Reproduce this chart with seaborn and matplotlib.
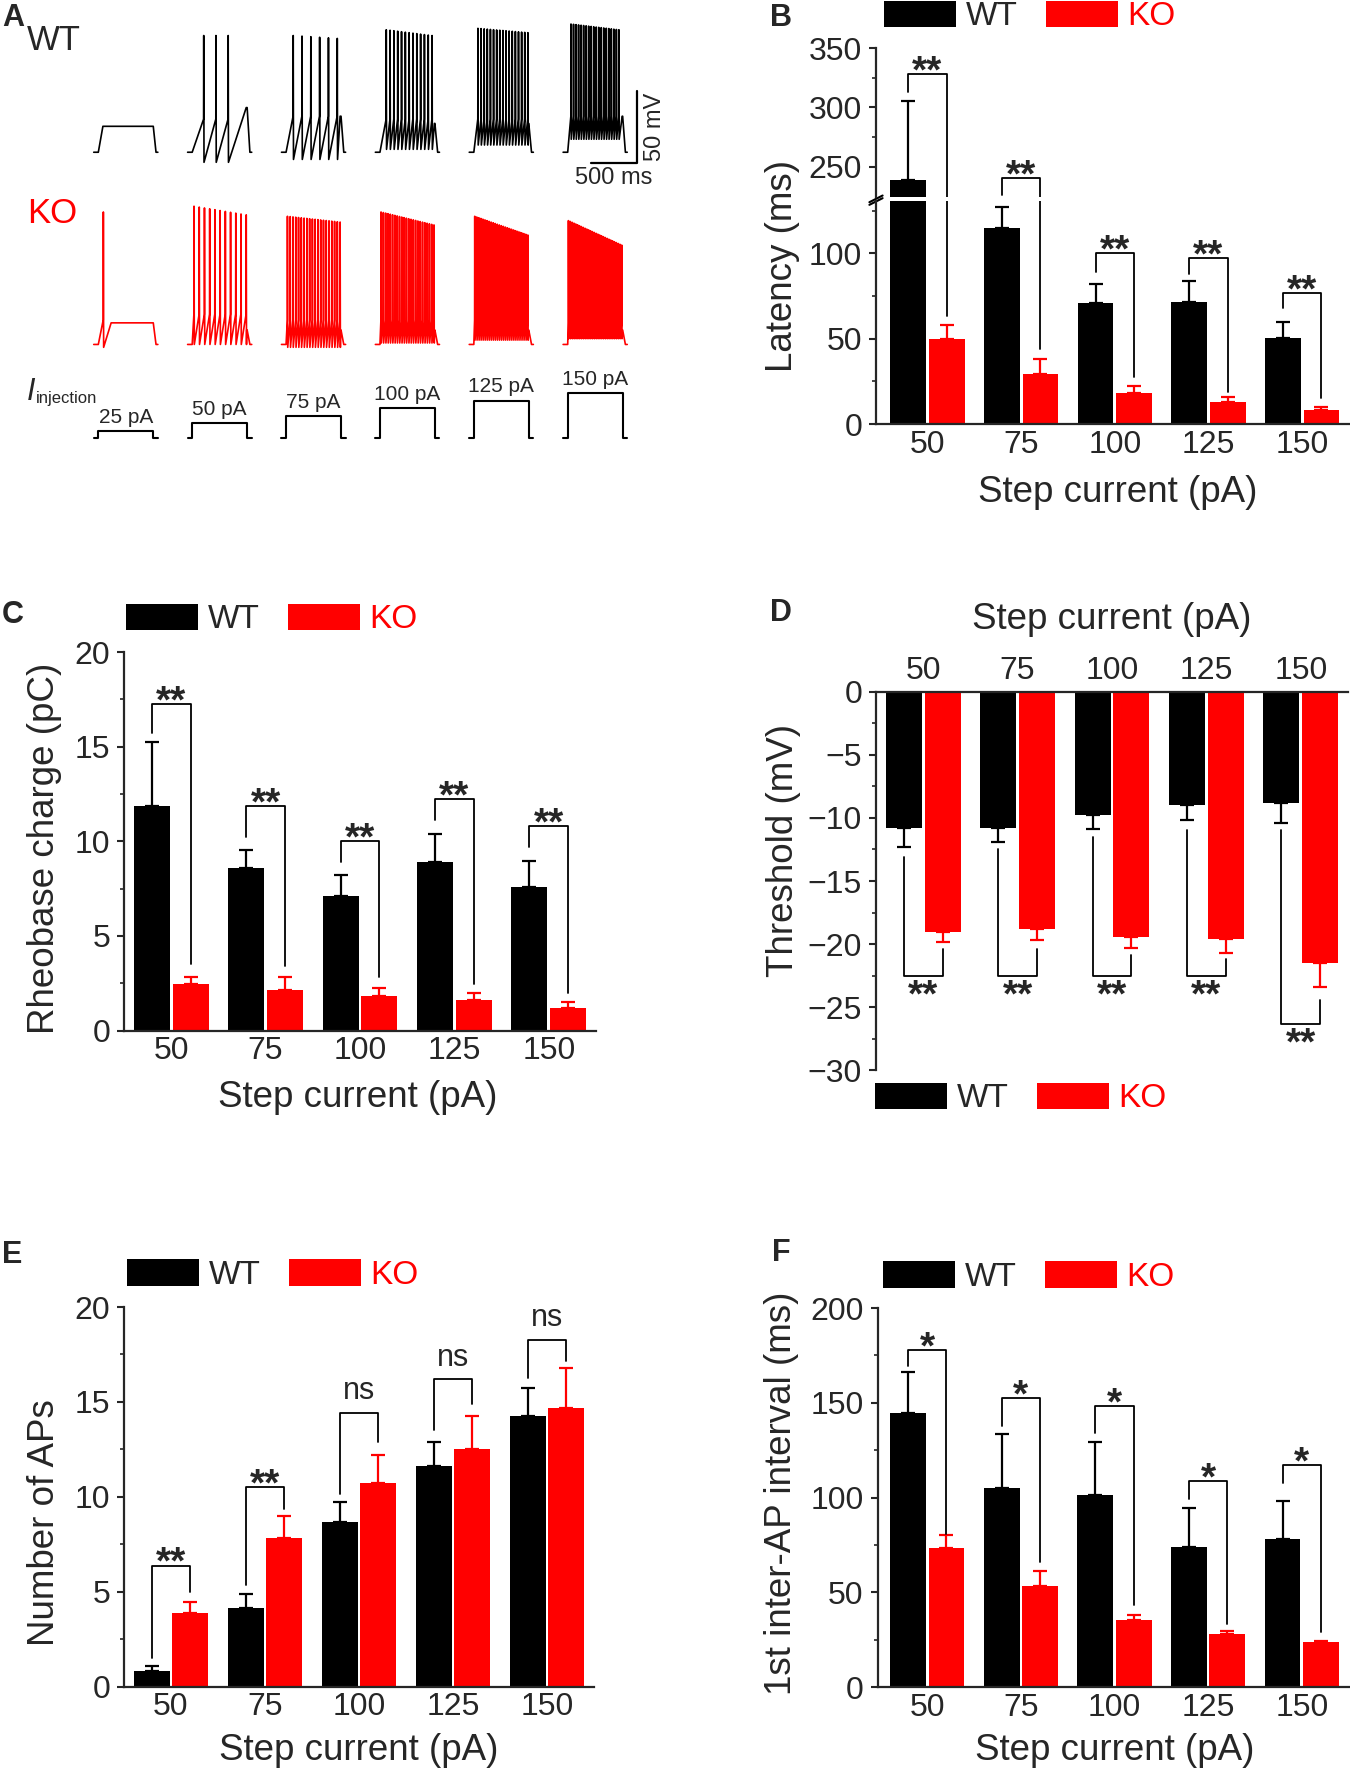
"""Firing properties of WT vs KO neurons: example traces and summary bar charts."""

import numpy as np
import pandas as pd
import seaborn as sns
import matplotlib.pyplot as plt
from matplotlib.patches import Patch
from matplotlib.ticker import MultipleLocator

W, H = 1350, 1776

steps = ["50", "75", "100", "125", "150"]
groups = ["WT", "KO"]
colors = {"WT": "black", "KO": "#ff0000"}

# --- panel A: example traces (per-trace spike counts, timing and levels)
step_amps = [25, 50, 75, 100, 125, 150]
wt_n = [0, 3, 6, 13, 17, 20]
wt_first = [0, 176, 128, 119, 95, 86]
wt_last = [0, 443, 609, 619, 640, 609]
wt_peak_first = [0, 16, 16, 20, 21, 24]
wt_peak_last = [0, 16, 14, 16, 18, 20]
wt_trough = [0, -72, -70, -63, -60, -56]
wt_thresh = [0, -42, -40, -42, -42, -40]
wt_hold = [-47, -34, -40, -45, -45, -40]
wt_hold_t = [100, 640, 640, 645, 645, 645]

ko_n = [1, 11, 20, 24, 27, 30]
ko_first = [105, 70, 65, 62, 60, 58]
ko_last = [105, 640, 640, 640, 640, 640]
ko_peak_first = [27, 31, 24, 27, 24, 21]
ko_peak_last = [27, 25, 20, 18, 11, 4]
ko_trough = [-67, -65, -67, -64, -62, -61]
ko_thresh = [-48, -44, -48, -48, -48, -50]
ko_hold = [-50, -55, -55, -55, -55, -55]
ko_hold_t = [190, 645, 645, 645, 645, 645]

# --- panel B: latency (ms)
latency_wt = [239, 115, 71, 71.5, 50.5]
latency_wt_sem = [66, 12, 11, 12.5, 9]
latency_ko = [49.5, 29, 18, 13, 8.3]
latency_ko_sem = [8.5, 9, 4.2, 3, 1.8]
latency_brackets = [(313, 328, 63), (226, 240.7, 44), (89, 100, 27.7), (88, 97, 19), (68, 76.6, 15)]
latency_marks = ["**", "**", "**", "**", "**"]

# --- panel C: rheobase charge (pC)
rheo_wt = [11.85, 8.6, 7.1, 8.9, 7.6]
rheo_wt_sem = [3.4, 0.95, 1.1, 1.5, 1.35]
rheo_ko = [2.45, 2.15, 1.8, 1.6, 1.2]
rheo_ko_sem = [0.4, 0.7, 0.45, 0.4, 0.3]
rheo_brackets = [(15.7, 17.27, 3.5), (10.2, 11.84, 3.4), (8.9, 10.0, 2.84), (11.1, 12.25, 2.46), (9.7, 10.8, 2.0)]
rheo_marks = ["**", "**", "**", "**", "**"]

# --- panel D: threshold (mV)
thr_wt = [-10.8, -10.8, -9.8, -9.0, -8.8]
thr_wt_sem = [1.5, 1.1, 1.1, 1.2, 1.6]
thr_ko = [-19.0, -18.8, -19.4, -19.6, -21.5]
thr_ko_sem = [0.85, 0.9, 0.9, 1.1, 1.9]
thr_brackets = [(-13.1, -22.5, -20.4), (-12.5, -22.5, -20.4), (-11.55, -22.55, -20.9),
                (-11.0, -22.55, -21.2), (-11.0, -26.3, -24.4)]
thr_marks = ["**", "**", "**", "**", "**"]

# --- panel E: number of APs
aps_wt = [0.8, 4.15, 8.65, 11.6, 14.25]
aps_wt_sem = [0.3, 0.7, 1.05, 1.3, 1.5]
aps_ko = [3.85, 7.8, 10.75, 12.5, 14.7]
aps_ko_sem = [0.6, 1.2, 1.45, 1.75, 2.1]
aps_brackets = [(1.48, 6.37, 4.96), (5.34, 10.5, 9.38), (10.13, 14.4, 12.86), (13.5, 16.18, 14.9), (16.24, 18.27, 17.14)]
aps_marks = ["**", "**", "ns", "ns", "ns"]

# --- panel F: 1st inter-AP interval (ms)
isi_wt = [144.5, 105, 101.5, 74, 78]
isi_wt_sem = [21.5, 28.5, 28, 20.5, 20]
isi_ko = [73.5, 53.5, 35.5, 28, 23.5]
isi_ko_sem = [6.5, 7.5, 2.5, 1.5, 1.0]
isi_brackets = [(169.5, 178, 81), (137.5, 152.5, 66), (134, 148.4, 43.3), (99, 108.7, 33), (107.5, 117, 29.2)]
isi_marks = ["*", "*", "*", "*", "*"]

TICK_FS = 23
LABEL_FS = 26.5


def px_rect(left, top, right, bottom):
    return [left / W, 1 - bottom / H, (right - left) / W, (bottom - top) / H]


def membrane_trace(n, t_first, t_last, pk_first, pk_last, trough, thresh, hold, t_hold,
                   rest=-65.0, step_on=50.0, step_off=650.0, length=700.0):
    t = [0.0, step_on]
    v = [rest, rest]
    if n > 0:
        times = np.linspace(t_first, t_last, n)
        peaks = np.linspace(pk_first, pk_last, n)
        for ts, vp in zip(times, peaks):
            t += [ts - 1.5, ts, ts + 3]
            v += [thresh, vp, trough]
    if t_hold > t[-1]:
        t += [t_hold, step_off]
        v += [hold, hold]
    t += [step_off + 30, length]
    v += [rest, rest]
    return np.array(t), np.array(v)


def style_axis(ax):
    sns.despine(ax=ax)
    for side in ["left", "bottom", "top"]:
        ax.spines[side].set_linewidth(1.6)
    ax.tick_params(axis="y", which="major", length=5, width=1.5, pad=5, labelsize=TICK_FS, direction="out")
    ax.tick_params(axis="y", which="minor", length=3, width=1.2, direction="out")
    ax.tick_params(axis="x", length=0, pad=4, labelsize=TICK_FS)


def bar_panel(ax, wt, wt_sem, ko, ko_sem, downward=False):
    df = pd.DataFrame({
        "step": steps * 2,
        "group": ["WT"] * len(steps) + ["KO"] * len(steps),
        "value": list(wt) + list(ko),
    })
    sns.barplot(data=df, x="step", y="value", hue="group", order=steps, hue_order=groups,
                palette=colors, errorbar=None, width=0.82, gap=0.07, saturation=1,
                linewidth=0, legend=False, ax=ax)
    centers = {}
    for g, cont, vals, sem in zip(groups, ax.containers, [wt, ko], [wt_sem, ko_sem]):
        xs = [b.get_x() + b.get_width() / 2 for b in cont]
        centers[g] = xs
        zeros = np.zeros(len(sem))
        yerr = [sem, zeros] if downward else [zeros, sem]
        ax.errorbar(xs, vals, yerr=yerr, fmt="none", ecolor=colors[g],
                    elinewidth=1.6, capsize=4.7, capthick=1.6)
    ax.set_xlabel("")
    ax.set_ylabel("")
    style_axis(ax)
    return centers


def draw_brackets(ax, centers, spans, marks, below=False):
    for xl, xr, (yl, yt, yr), mark in zip(centers["WT"], centers["KO"], spans, marks):
        ax.plot([xl, xl, xr, xr], [yl, yt, yt, yr], color="black", lw=1.3)
        if mark == "ns":
            size, off, weight = 22, 10, "normal"
        elif below:
            size, off, weight = 28, -22, "bold"
        else:
            size, off, weight = 28, -6, "bold"
        ax.annotate(mark, ((xl + xr) / 2, yt), xytext=(0, off), textcoords="offset points",
                    ha="center", va="baseline", fontsize=size, fontweight=weight)


def legend_at(fig, x, y):
    handles = [Patch(facecolor=colors[g], edgecolor="none") for g in groups]
    leg = fig.legend(handles, groups, loc="center left", bbox_to_anchor=(x / W, 1 - y / H),
                     ncol=2, frameon=False, fontsize=24, handlelength=2.15, handleheight=0.85,
                     handletextpad=0.3, columnspacing=0.85, borderpad=0, borderaxespad=0)
    leg.get_texts()[1].set_color(colors["KO"])


def main() -> None:
    sns.set_style("ticks")
    plt.rcParams["font.family"] = ["Liberation Sans", "DejaVu Sans"]

    fig = plt.figure(figsize=(W / 100, H / 100), dpi=100)

    # ---------------- panel A ----------------
    col_offset = 1025
    xlim_a = (-150, 6292)
    ax_wt = fig.add_axes(px_rect(80, 20, 670, 175))
    ax_ko = fig.add_axes(px_rect(80, 195, 670, 360))
    ax_st = fig.add_axes(px_rect(80, 380, 670, 445))
    for ax in (ax_wt, ax_ko, ax_st):
        ax.set_xlim(*xlim_a)
        ax.axis("off")
    ax_wt.set_ylim(-80.8, 26.8)
    ax_ko.set_ylim(-75.8, 38.8)
    ax_st.set_ylim(-21.5, 193)

    for i in range(len(step_amps)):
        t, v = membrane_trace(wt_n[i], wt_first[i], wt_last[i], wt_peak_first[i], wt_peak_last[i],
                              wt_trough[i], wt_thresh[i], wt_hold[i], wt_hold_t[i])
        sns.lineplot(x=t + i * col_offset, y=v, ax=ax_wt, color="black", lw=1.2,
                     sort=False, estimator=None)
        t, v = membrane_trace(ko_n[i], ko_first[i], ko_last[i], ko_peak_first[i], ko_peak_last[i],
                              ko_trough[i], ko_thresh[i], ko_hold[i], ko_hold_t[i])
        sns.lineplot(x=t + i * col_offset, y=v, ax=ax_ko, color=colors["KO"], lw=1.2,
                     sort=False, estimator=None)
        amp = step_amps[i]
        ts = np.array([0, 50, 50, 650, 650, 700]) + i * col_offset
        cur = [0, 0, amp, amp, 0, 0]
        ax_st.plot(ts, cur, color="black", lw=1.5)
        ax_st.annotate(f"{amp} pA", (350 + i * col_offset, amp), xytext=(0, 3),
                       textcoords="offset points", ha="center", va="bottom", fontsize=15,
                       annotation_clip=False)

    # scale bar: 500 ms / 50 mV
    sb_x, sb_y = 5930, -72.6
    ax_wt.plot([sb_x - 500, sb_x, sb_x], [sb_y, sb_y, sb_y + 50], color="black", lw=1.6,
               clip_on=False)
    ax_wt.annotate("500 ms", (sb_x - 250, sb_y), xytext=(0, -3), textcoords="offset points",
                   ha="center", va="top", fontsize=17, annotation_clip=False)
    ax_wt.annotate("50 mV", (sb_x, sb_y + 25), xytext=(5, 0), textcoords="offset points",
                   ha="left", va="center", rotation=90, fontsize=17, annotation_clip=False)

    fig.text(2 / W, 1 - 3 / H, "A", fontsize=22, fontweight="bold", va="top", ha="left")
    fig.text(27 / W, 1 - 50 / H, "WT", fontsize=25, va="baseline", ha="left")
    fig.text(27 / W, 1 - 223 / H, "KO", fontsize=25, va="baseline", ha="left", color=colors["KO"])
    fig.text(27 / W, 1 - 400 / H, "I", fontsize=22, style="italic", va="baseline", ha="left")
    fig.text(36 / W, 1 - 403 / H, "injection", fontsize=12, va="baseline", ha="left")

    # ---------------- panel B (broken axis) ----------------
    ax_up = fig.add_axes(px_rect(876, 48, 1349, 197))
    ax_lo = fig.add_axes(px_rect(876, 201.5, 1349, 424))
    for ax in (ax_up, ax_lo):
        centers = bar_panel(ax, latency_wt, latency_wt_sem, latency_ko, latency_ko_sem)
        draw_brackets(ax, centers, latency_brackets, latency_marks)
        ax.set_xlim(-0.55, 4.5)
    ax_up.set_ylim(224.6, 350)
    ax_up.set_yticks([250, 300, 350])
    ax_up.set_yticks([275, 325], minor=True)
    ax_up.spines["bottom"].set_visible(False)
    ax_up.tick_params(axis="x", labelbottom=False)
    ax_lo.set_ylim(0, 130.3)
    ax_lo.yaxis.set_major_locator(MultipleLocator(50))
    ax_lo.yaxis.set_minor_locator(MultipleLocator(25))
    ax_lo.set_ylabel("Latency (ms)", fontsize=LABEL_FS, va="center")
    ax_lo.yaxis.set_label_coords(-0.197, 0.71)
    ax_lo.set_xlabel("Step current (pA)", fontsize=LABEL_FS, va="center")
    ax_lo.xaxis.set_label_coords(0.51, -0.31)
    # break marks on the y axis
    ax_up.plot([-0.014, 0.014], [-0.035, 0.01], transform=ax_up.transAxes, color="black",
               lw=1.5, clip_on=False)
    ax_lo.plot([-0.014, 0.014], [0.985, 1.015], transform=ax_lo.transAxes, color="black",
               lw=1.5, clip_on=False)
    fig.text(770 / W, 1 - 3 / H, "B", fontsize=22, fontweight="bold", va="top", ha="left")
    legend_at(fig, 884, 16.5)

    # ---------------- panel C ----------------
    ax_c = fig.add_axes(px_rect(124, 652, 596, 1030.5))
    centers = bar_panel(ax_c, rheo_wt, rheo_wt_sem, rheo_ko, rheo_ko_sem)
    draw_brackets(ax_c, centers, rheo_brackets, rheo_marks)
    ax_c.set_xlim(-0.5, 4.5)
    ax_c.set_ylim(0, 20)
    ax_c.yaxis.set_major_locator(MultipleLocator(5))
    ax_c.yaxis.set_minor_locator(MultipleLocator(2.5))
    ax_c.set_ylabel("Rheobase charge (pC)", fontsize=LABEL_FS, va="center")
    ax_c.yaxis.set_label_coords(-0.169, 0.48)
    ax_c.set_xlabel("Step current (pA)", fontsize=LABEL_FS, va="center")
    ax_c.xaxis.set_label_coords(0.496, -0.176)
    fig.text(2 / W, 1 - 600 / H, "C", fontsize=22, fontweight="bold", va="top", ha="left")
    legend_at(fig, 126, 619.5)

    # ---------------- panel D ----------------
    ax_d = fig.add_axes(px_rect(876, 691.6, 1348, 1070.4))
    centers = bar_panel(ax_d, thr_wt, thr_wt_sem, thr_ko, thr_ko_sem, downward=True)
    draw_brackets(ax_d, centers, thr_brackets, thr_marks, below=True)
    ax_d.set_xlim(-0.5, 4.5)
    ax_d.set_ylim(-30, 0)
    ax_d.spines["top"].set_visible(True)
    ax_d.spines["bottom"].set_visible(False)
    ax_d.xaxis.tick_top()
    ax_d.xaxis.set_label_position("top")
    ax_d.tick_params(axis="x", length=0, pad=4, labelsize=TICK_FS)
    ax_d.yaxis.set_major_locator(MultipleLocator(5))
    ax_d.yaxis.set_minor_locator(MultipleLocator(2.5))
    ax_d.set_ylabel("Threshold (mV)", fontsize=LABEL_FS, va="center")
    ax_d.yaxis.set_label_coords(-0.197, 0.58)
    ax_d.set_xlabel("Step current (pA)", fontsize=LABEL_FS, va="center")
    ax_d.xaxis.set_label_coords(0.5, 1.19)
    fig.text(770 / W, 1 - 598 / H, "D", fontsize=22, fontweight="bold", va="top", ha="left")
    legend_at(fig, 875, 1098.5)

    # ---------------- panel E ----------------
    ax_e = fig.add_axes(px_rect(124, 1307, 594, 1686.5))
    centers = bar_panel(ax_e, aps_wt, aps_wt_sem, aps_ko, aps_ko_sem)
    draw_brackets(ax_e, centers, aps_brackets, aps_marks)
    ax_e.set_xlim(-0.5, 4.5)
    ax_e.set_ylim(0, 20)
    ax_e.yaxis.set_major_locator(MultipleLocator(5))
    ax_e.yaxis.set_minor_locator(MultipleLocator(2.5))
    ax_e.set_ylabel("Number of APs", fontsize=LABEL_FS, va="center")
    ax_e.yaxis.set_label_coords(-0.17, 0.433)
    ax_e.set_xlabel("Step current (pA)", fontsize=LABEL_FS, va="center")
    ax_e.xaxis.set_label_coords(0.5, -0.168)
    fig.text(2 / W, 1 - 1240 / H, "E", fontsize=22, fontweight="bold", va="top", ha="left")
    legend_at(fig, 127, 1275)

    # ---------------- panel F ----------------
    ax_f = fig.add_axes(px_rect(877.6, 1308, 1348.6, 1687))
    centers = bar_panel(ax_f, isi_wt, isi_wt_sem, isi_ko, isi_ko_sem)
    draw_brackets(ax_f, centers, isi_brackets, isi_marks)
    ax_f.set_xlim(-0.53, 4.5)
    ax_f.set_ylim(0, 200)
    ax_f.yaxis.set_major_locator(MultipleLocator(50))
    ax_f.yaxis.set_minor_locator(MultipleLocator(25))
    ax_f.set_ylabel("1st inter-AP interval (ms)", fontsize=LABEL_FS, va="center")
    ax_f.yaxis.set_label_coords(-0.205, 0.51)
    ax_f.set_xlabel("Step current (pA)", fontsize=LABEL_FS, va="center")
    ax_f.xaxis.set_label_coords(0.503, -0.168)
    fig.text(772 / W, 1 - 1238 / H, "F", fontsize=22, fontweight="bold", va="top", ha="left")
    legend_at(fig, 883, 1277)

    fig.savefig("out.png", dpi=100)
    plt.close(fig)


if __name__ == "__main__":
    main()
